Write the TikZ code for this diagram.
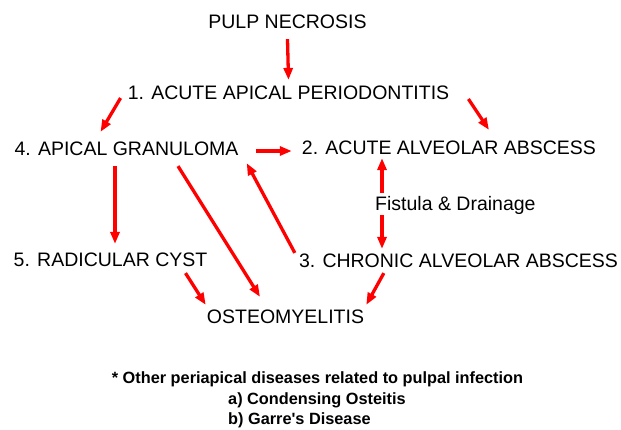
\documentclass[tikz,border=0pt]{standalone}
\usepackage{fontspec}
\setmainfont{Liberation Sans}
\usepackage{xcolor}
\usepackage{tikz}
\usetikzlibrary{arrows.meta}

\begin{document}
\begin{tikzpicture}[x=1pt, y=-1pt,
  st/.style={inner sep=0pt, font=\fontsize{19.5}{22}\selectfont},
  nt/.style={inner sep=0pt, font=\fontsize{16.3}{19}\selectfont\bfseries},
  arr/.style={->, red, line width=3.3pt},
  >={Triangle[length=12pt, width=9pt]}]
\useasboundingbox (0,0) rectangle (621,429);
\node[st] (pn) at (287.5,22) {PULP NECROSIS};
\node[st] (aap) at (288.5,93) {1. ACUTE APICAL PERIODONTITIS};
\node[st] (ag) at (126.5,149) {4. APICAL GRANULOMA};
\node[st] (aaa) at (449,148) {2. ACUTE ALVEOLAR ABSCESS};
\node[st, anchor=base west] (fd) at (375,210) {Fistula \& Drainage};
\node[st] (rc) at (110.5,260) {5. RADICULAR CYST};
\node[st] (caa) at (458.5,261) {3. CHRONIC ALVEOLAR ABSCESS};
\node[st] (ost) at (285.5,317) {OSTEOMYELITIS};
\node[nt] (nt) at (317.5,379) {* Other periapical diseases related to pulpal infection};
\node[nt, anchor=west] (co) at (228,400) {a) Condensing Osteitis};
\node[nt, anchor=west] (gd) at (228,420) {b) Garre\textquotesingle s Disease};
\coordinate (fdx) at ([xshift=7pt]fd.west);
\draw[arr] ([yshift=-10pt]pn.south) -- ([yshift=6pt]aap.north);
\draw[arr] ([shift={(-7pt,-5pt)}]aap.west) -- ([shift={(-26pt,10pt)}]ag.north);
\draw[arr] ([shift={(19pt,-6pt)}]aap.east) -- ([shift={(40pt,11pt)}]aaa.north);
\draw[arr] ([shift={(17pt,-2pt)}]ag.east) -- ([shift={(-10pt,-3pt)}]aaa.west);
\draw[arr] ([shift={(-11.5pt,-10pt)}]ag.south) -- ([shift={(4.5pt,9pt)}]rc.north);
\draw[arr] ([shift={(51.5pt,-10pt)}]ag.south) -- ([shift={(-25.5pt,13pt)}]ost.north);
\draw[arr] ([shift={(-4pt,1pt)}]caa.north west) -- ([shift={(8pt,-7pt)}]ag.south east);
% fistula line, split by its label
\draw[arr] ([yshift=3pt]fdx |- fd.north) -- ([yshift=-3pt]fdx |- aaa.south);
\draw[arr] ([yshift=-1pt]fdx |- fd.south) -- ([yshift=5pt]fdx |- caa.north);
\draw[arr] ([shift={(-22pt,-6pt)}]rc.south east) -- ([shift={(-1pt,5pt)}]ost.north west);
\draw[arr] ([shift={(85pt,-5pt)}]caa.south west) -- ([shift={(2pt,5pt)}]ost.north east);
\end{tikzpicture}
\end{document}
